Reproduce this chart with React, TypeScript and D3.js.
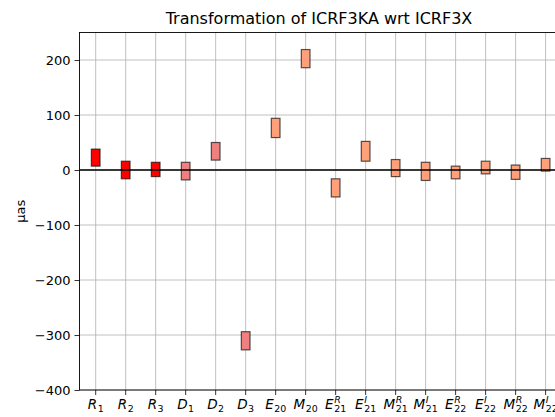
import React, { useEffect, useRef } from "react";
import * as d3 from "d3";

// tick labels: main letter, subscript, superscript
const names = ["R", "R", "R", "D", "D", "D", "E", "M", "E", "E", "M", "M", "E", "E", "M", "M"];
const subs = ["1", "2", "3", "1", "2", "3", "20", "20", "21", "21", "21", "21", "22", "22", "22", "22"];
const sups = ["", "", "", "", "", "", "", "", "R", "I", "R", "I", "R", "I", "R", "I"];

// box extents in µas
const lower = [7, -16, -12, -18, 18, -327, 59, 186, -49, 16, -12, -19, -16, -7, -17, -2];
const upper = [38, 16, 14, 14, 50, -294, 94, 219, -16, 52, 19, 14, 7, 16, 9, 21];

const yTicks = [-400, -300, -200, -100, 0, 100, 200];
const title = "Transformation of ICRF3KA wrt ICRF3X";
const yLabel = "μas";

const fills: Record<string, string> = { R: "#ff0000", D: "#f08080", E: "#ffa07a", M: "#ffa07a" };

const W = 555;
const H = 417;
const FONT = "DejaVu Sans, sans-serif";

const App = () => {
  const svgRef = useRef<SVGSVGElement>(null);

  useEffect(() => {
    const svg = d3.select(svgRef.current);
    svg.selectAll("*").remove();

    const left = 79.5, right = 558.5, top = 32.5, bottom = 390;
    const x = d3.scaleLinear().domain([-0.54, names.length - 0.57]).range([left, right]);
    const y = d3.scaleLinear().domain([-400, 250]).range([bottom, top]);
    const idx = d3.range(names.length);

    // grid
    const grid = svg.append("g").attr("stroke", "#b0b0b0").attr("stroke-width", 0.8);
    grid.selectAll("line.v").data(idx).join("line")
      .attr("x1", (i) => x(i)).attr("x2", (i) => x(i))
      .attr("y1", top).attr("y2", bottom);
    grid.selectAll("line.h").data(yTicks).join("line")
      .attr("x1", left).attr("x2", right)
      .attr("y1", (d) => y(d)).attr("y2", (d) => y(d));

    // boxes
    const bw = 0.29;
    svg.append("g").selectAll("rect").data(idx).join("rect")
      .attr("x", (i) => x(i - bw / 2))
      .attr("width", x(bw) - x(0))
      .attr("y", (i) => y(upper[i]))
      .attr("height", (i) => y(lower[i]) - y(upper[i]))
      .attr("fill", (i) => fills[names[i]])
      .attr("stroke", "#000")
      .attr("stroke-opacity", 0.65)
      .attr("stroke-width", 1.2);

    // zero line
    svg.append("line")
      .attr("x1", left).attr("x2", right)
      .attr("y1", y(0)).attr("y2", y(0))
      .attr("stroke", "#000").attr("stroke-width", 1.6);

    // spines
    svg.append("rect")
      .attr("x", left).attr("y", top)
      .attr("width", right - left).attr("height", bottom - top)
      .attr("fill", "none").attr("stroke", "#000").attr("stroke-width", 0.9);

    // y axis
    const yAxis = svg.append("g")
      .attr("transform", `translate(${left},0)`)
      .call(d3.axisLeft(y).tickValues(yTicks).tickSize(5).tickPadding(4));
    yAxis.select(".domain").remove();
    yAxis.selectAll("line").attr("stroke", "#000").attr("stroke-width", 0.8);
    yAxis.selectAll("text").attr("font-family", FONT).attr("font-size", 13).attr("fill", "#000");

    // x ticks
    svg.append("g").selectAll("line").data(idx).join("line")
      .attr("x1", (i) => x(i)).attr("x2", (i) => x(i))
      .attr("y1", bottom).attr("y2", bottom + 5)
      .attr("stroke", "#000").attr("stroke-width", 0.8);

    // x tick labels: one text each, sup and sub stacked with tspans
    const fs = 13.5;
    const sfs = fs * 0.7;
    const lab = svg.append("g").attr("font-family", FONT);
    idx.forEach((i) => {
      const t = lab.append("text").attr("y", 409).attr("font-size", fs);
      t.append("tspan").attr("font-style", "italic").text(names[i]);
      if (sups[i]) {
        const sp = t.append("tspan")
          .attr("font-size", sfs).attr("font-style", "italic")
          .attr("dx", 0.5).attr("dy", -fs * 0.42)
          .text(sups[i]);
        const spw = (sp.node() as SVGTSpanElement).getComputedTextLength();
        t.append("tspan")
          .attr("font-size", sfs)
          .attr("dx", -spw).attr("dy", fs * 0.64)
          .text(subs[i]);
      } else {
        t.append("tspan")
          .attr("font-size", sfs)
          .attr("dx", 0.5).attr("dy", fs * 0.22)
          .text(subs[i]);
      }
      const bb = (t.node() as SVGTextElement).getBBox();
      t.attr("x", x(i) - bb.width / 2);
    });

    // title and y label
    svg.append("text")
      .attr("x", (left + right) / 2).attr("y", 24)
      .attr("text-anchor", "middle")
      .attr("font-family", FONT).attr("font-size", 16)
      .text(title);
    svg.append("text")
      .attr("transform", `translate(25,${(top + bottom) / 2}) rotate(-90)`)
      .attr("text-anchor", "middle")
      .attr("font-family", FONT).attr("font-size", 13)
      .text(yLabel);
  }, []);

  return (
    <svg
      ref={svgRef}
      width={W}
      height={H}
      style={{ position: "absolute", left: 0, top: 0, background: "#fff" }}
    />
  );
};

export default App;
